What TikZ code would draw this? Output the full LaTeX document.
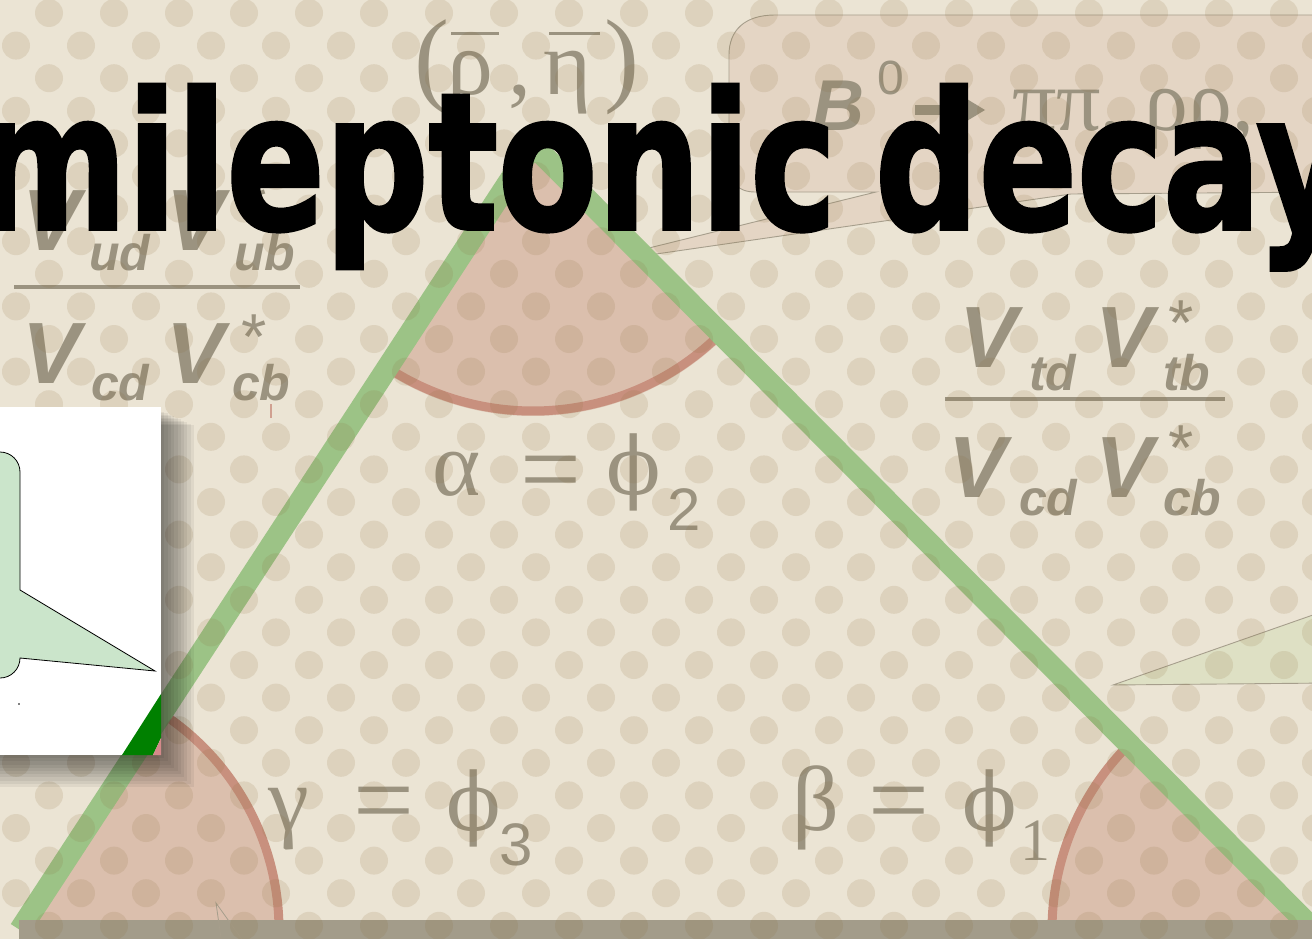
\documentclass[tikz,border=0pt]{standalone}
\usepackage{fontspec}
\setmainfont{Liberation Serif}
\newfontfamily\sansf{Liberation Sans}
\newfontfamily\serf{Liberation Serif}
\newfontfamily\phifont{DejaVu Serif}
\newfontfamily\titlefont{DejaVu Sans}[BoldFeatures={FakeBold=2}]
\usetikzlibrary{calc}
\definecolor{bgc}{HTML}{EBE4D4}
\definecolor{dotc}{RGB}{140,110,60}
\definecolor{wedgec}{HTML}{DBBFAD}
\definecolor{arcc}{HTML}{C8907E}
\definecolor{greenl}{HTML}{9CC386}
\definecolor{barc}{HTML}{A39C8A}
\definecolor{tgray}{HTML}{9B9380}
\definecolor{boxline}{HTML}{A69E8C}
\definecolor{calloutg}{HTML}{C6D9A8}
\definecolor{insetg}{HTML}{CBE5CB}
\definecolor{darkg}{HTML}{008000}
\definecolor{pinkc}{HTML}{D4898A}
\definecolor{tickc}{HTML}{D0A090}
\tikzset{
  gtxt/.style={text=tgray, inner sep=0pt, outer sep=0pt, anchor=base west},
  vbig/.style={gtxt, font=\sansf\bfseries\itshape\fontsize{87}{87}\selectfont},
  vsub/.style={gtxt, font=\sansf\bfseries\itshape\fontsize{50}{50}\selectfont},
  vstar/.style={gtxt, font=\sansf\fontsize{65}{65}\selectfont},
  greek/.style={gtxt, font=\serf\fontsize{92}{92}\selectfont},
  eqsign/.style={gtxt, font=\serf\fontsize{108}{108}\selectfont},
  phisym/.style={gtxt, font=\phifont\fontsize{80}{80}\selectfont},
  subsans/.style={gtxt, font=\sansf\fontsize{60}{60}\selectfont},
  subserif/.style={gtxt, font=\serf\fontsize{60}{60}\selectfont},
  titletext/.style={anchor=base west, inner sep=0pt, outer sep=0pt, text=black},
  wedge/.style={fill=wedgec},
  wedgearc/.style={draw=arcc, line width=9pt},
  thinline/.style={draw=boxline, line width=0.9pt},
}
\newcommand{\ttlfont}{\titlefont\bfseries\fontsize{190}{190}\selectfont}
\begin{document}
\begin{tikzpicture}[x=1pt,y=-1pt]
\clip (0,0) rectangle (1312,939);
\fill[bgc] (0,0) rectangle (1312,939);

% triangle vertices
\coordinate (A) at (533,145);
\coordinate (BL) at (20,930);
\coordinate (BR) at (1314,930);

% top-right speech bubble
\filldraw[fill=wedgec, fill opacity=0.4, thinline]
  (1330,15) -- (775,15) .. controls (745,15) and (729,30) .. (729,55)
  -- (729,165) .. controls (729,182) and (738,192) .. (755,192)
  -- (876,192) -- (580,265) -- (1071,194) -- (1330,192);
\node[gtxt, font=\sansf\bfseries\itshape\fontsize{72}{72}\selectfont] (bzero) at (812,131) {B};
\node[gtxt, font=\sansf\fontsize{48}{48}\selectfont] (bsup) at (877,95) {0};
\fill[tgray] (915,105) rectangle (958,115);
\fill[tgray] (952,90) -- (985,110) -- (952,130) -- cycle;
\node[gtxt, font=\serf\fontsize{88}{88}\selectfont] (pipi) at (1012,131) {ππ, ρρ,};

% right green callout
\filldraw[fill=calloutg, fill opacity=0.35, thinline] (1330,609) -- (1113,685) -- (1330,683);

% angle wedges
\fill[wedge] (A) -- ++(45.3:271) arc[start angle=45.3, end angle=122.8, radius=271] -- cycle;
\draw[wedgearc] (A) ++(45.3:266) arc[start angle=45.3, end angle=122.8, radius=266];
\fill[wedge] (BL) -- ++(-57.2:263) arc[start angle=-57.2, end angle=0, radius=263] -- cycle;
\draw[wedgearc] (BL) ++(-57.2:259) arc[start angle=-57.2, end angle=0, radius=259];
\fill[wedge] (BR) -- ++(180:266) arc[start angle=180, end angle=225.3, radius=266] -- cycle;
\draw[wedgearc] (BR) ++(180:262) arc[start angle=180, end angle=225.3, radius=262];

% (rho bar, eta bar)
\node[gtxt, font=\serf\fontsize{105}{105}\selectfont] (lpar) at (414,93) {(};
\node[greek] (rho) at (447,95) {ρ};
\node[greek] (comma) at (508,95) {,};
\node[greek] (eta) at (543,95) {η};
\node[gtxt, font=\serf\fontsize{105}{105}\selectfont] (rpar) at (604,93) {)};
\draw[tgray, line width=3pt] (451,34) -- (499,34);
\draw[tgray, line width=3pt] (549,34) -- (600,34);

% left fraction
\node[vbig] (lv1) at (23,250) {V};
\node[vsub] (lud) at (89,270) {ud};
\node[vbig] (lv2) at (166,250) {V};
\node[vstar] (lst1) at (241,228) {*};
\node[vsub] (lub) at (234,270) {ub};
\fill[tgray] (14,285) rectangle (300,289);
\node[vbig] (lv3) at (23,383) {V};
\node[vsub] (lcd) at (91,400) {cd};
\node[vbig] (lv4) at (166,383) {V};
\node[vstar] (lst2) at (241,359) {*};
\node[vsub] (lcb) at (232,400) {cb};

% right fraction
\node[vbig] (rv1) at (959,367) {V};
\node[vsub] (rtd) at (1029,390) {td};
\node[vbig] (rv2) at (1095,367) {V};
\node[vstar] (rst1) at (1168,345) {*};
\node[vsub] (rtb) at (1163,390) {tb};
\fill[tgray] (945,397) rectangle (1225,401);
\node[vbig] (rv3) at (948,497) {V};
\node[vsub] (rcd) at (1019,515) {cd};
\node[vbig] (rv4) at (1095,497) {V};
\node[vstar] (rst2) at (1168,470) {*};
\node[vsub] (rcb) at (1163,515) {cb};

% angle labels
\node[greek] (alpha) at (432,495) {α};
\node[eqsign] (eqa) at (520,505) {=};
\node[phisym] (phia) at (606,494) {ϕ};
\node[subsans] (two) at (667,530) {2};
\node[greek] (gamma) at (268,830) {γ};
\node[eqsign] (eqg) at (353,836) {=};
\node[phisym] (phig) at (446,830) {ϕ};
\node[subsans] (three) at (499,865) {3};
\node[greek] (beta) at (792,830) {β};
\node[eqsign] (eqb) at (868,836) {=};
\node[phisym] (phib) at (962,830) {ϕ};
\node[subserif] (one) at (1020,860) {1};

% green triangle sides
\draw[greenl, line width=22pt, line join=miter] (BL) -- (A) -- (BR);
% base bar
\fill[barc] (19,920) rectangle (1330,945);
% small details
\draw[thinline, line width=0.8pt] (222,945) -- (216,903) -- (246,945);
\draw[tickc, line width=1.2pt] (271,404) -- (271,418);

% dot pattern
\foreach \n in {0,...,29}{
  \pgfmathsetmacro{\yy}{13+32.6*\n}
  \pgfmathsetmacro{\xo}{isodd(\n) ? 16 : 49}
  \foreach \k in {-1,...,20}{
    \fill[dotc, fill opacity=0.145] ({\xo+65*\k},\yy) circle[radius=14];
  }
}

% inset with shadow
\foreach \i in {1,...,10}{
  \fill[black, opacity=0.055] (-5,{410+1.5*\i}) rectangle ({161+3.3*\i},{755+3.2*\i});
}
\node[fill=white, minimum width=161pt, minimum height=348pt, anchor=north west, inner sep=0pt, outer sep=0pt] (inset) at (0,407) {};
\filldraw[fill=insetg, draw=black, line width=0.8pt]
  (0,452) arc[start angle=-90, end angle=0, radius=20] -- (20,590) -- (155,671)
  -- (20,658) arc[start angle=0, end angle=90, radius=20];
\fill[black] (19,704) circle[radius=0.8];
\fill[darkg] (122,755) -- (161,694) -- (161,738) -- (153,755) -- cycle;
\fill[pinkc] (153,755) -- (161,738) -- (161,755) -- cycle;

% title
\node[titletext] (title1) at (-24,229) {\scalebox{0.763}[1]{\ttlfont mileptonic}};
\node[titletext] (title2) at (875,229) {\scalebox{0.763}[1]{\ttlfont decay}};
\end{tikzpicture}
\end{document}
